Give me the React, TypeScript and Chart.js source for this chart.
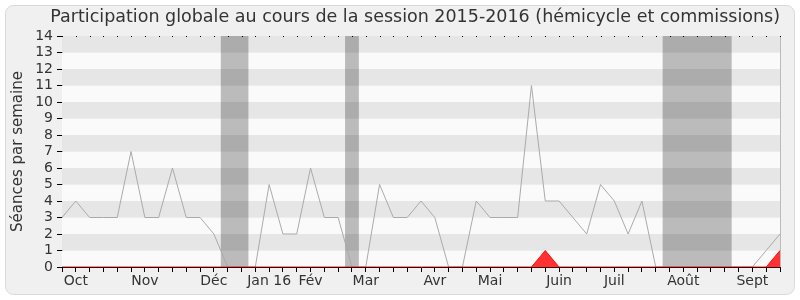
import React, { useEffect, useRef } from "react";
import { Chart, registerables } from "chart.js";

Chart.register(...registerables);

const TITLE = "Participation globale au cours de la session 2015-2016 (hémicycle et commissions)";
const Y_TITLE = "Séances par semaine";

// one entry per week, Oct 2015 -> Sept 2016
const participation = [
  3, 4, 3, 3, 3, 7, 3, 3, 6, 3, 3, 2, 0, 0, 0, 5, 2, 2, 6, 3, 3, 0, 0, 5, 3, 3,
  4, 3, 0, 0, 4, 3, 3, 3, 11, 4, 4, 3, 2, 5, 4, 2, 4, 0, 0, 0, 0, 0, 0, 0, 0, 1, 2,
];
const presenceHemicycle = [
  0, 0, 0, 0, 0, 0, 0, 0, 0, 0, 0, 0, 0, 0, 0, 0, 0, 0, 0, 0, 0, 0, 0, 0, 0, 0,
  0, 0, 0, 0, 0, 0, 0, 0, 0, 1, 0, 0, 0, 0, 0, 0, 0, 0, 0, 0, 0, 0, 0, 0, 0, 0, 1,
];
const monthWeeks = [1, 6, 11, 15, 18, 22, 27, 31, 36, 40, 45, 50];
const monthNames = ["Oct", "Nov", "Déc", "Jan 16", "Fév", "Mar", "Avr", "Mai", "Juin", "Juil", "Août", "Sept"];
// holiday periods, in week index units
const vacationStart = [11.5, 20.5, 43.5];
const vacationEnd = [13.5, 21.5, 48.5];

const weekLabels = participation.map((_, i) => {
  const k = monthWeeks.indexOf(i);
  return k >= 0 ? monthNames[k] : "";
});

const FONT = "'DejaVu Sans', sans-serif";

const decorPlugin = {
  id: "decor",
  beforeDraw(chart: any) {
    const ctx = chart.ctx;
    ctx.save();
    ctx.fillStyle = "#f0f0f0";
    ctx.strokeStyle = "#d9d9d9";
    ctx.lineWidth = 1;
    ctx.beginPath();
    (ctx as any).roundRect(5.5, 5.5, 789, 289, 8);
    ctx.fill();
    ctx.stroke();
    ctx.restore();
  },
  beforeDatasetsDraw(chart: any) {
    const ctx = chart.ctx;
    const { left, right, top, bottom } = chart.chartArea;
    const y = chart.scales.y;
    const x = chart.scales.x;
    ctx.save();
    for (let v = 0; v < 14; v++) {
      const y0 = y.getPixelForValue(v + 1);
      const y1 = y.getPixelForValue(v);
      ctx.fillStyle = v % 2 === 1 ? "#e6e6e6" : "#fafafa";
      ctx.fillRect(left, y0, right - left, y1 - y0);
    }
    ctx.fillStyle = "rgba(0,0,0,0.25)";
    for (let k = 0; k < vacationStart.length; k++) {
      const x0 = x.getPixelForValue(vacationStart[k]);
      const x1 = x.getPixelForValue(vacationEnd[k]);
      ctx.fillRect(x0, top, x1 - x0, bottom - top);
    }
    ctx.strokeStyle = "#bbbbbb";
    ctx.beginPath();
    ctx.moveTo(Math.round(right) + 0.5, top);
    ctx.lineTo(Math.round(right) + 0.5, bottom);
    ctx.stroke();
    ctx.fillStyle = "#000";
    for (let i = 0; i < participation.length; i++) {
      const px = Math.round(x.getPixelForValue(i));
      ctx.fillRect(px, Math.round(top), 1, 1);
    }
    ctx.restore();
  },
};

export default function App() {
  const ref = useRef<HTMLCanvasElement>(null);
  useEffect(() => {
    document.body.style.margin = "0";
    const chart = new Chart(ref.current!, {
      type: "line",
      data: {
        labels: weekLabels,
        datasets: [
          {
            data: presenceHemicycle,
            borderColor: "rgba(255,0,0,0.9)",
            backgroundColor: "rgba(255,0,0,0.8)",
            borderWidth: 1,
            fill: "origin",
            pointRadius: 0,
            tension: 0,
          },
          {
            data: participation,
            borderColor: "#aaaaaa",
            borderWidth: 1,
            fill: false,
            pointRadius: 0,
            tension: 0,
          },
        ],
      },
      options: {
        animation: false,
        responsive: false,
        layout: { padding: { left: 0, right: 20, top: 0, bottom: 0 } },
        plugins: {
          legend: { display: false },
          tooltip: { enabled: false },
          title: {
            display: true,
            text: TITLE,
            align: "end",
            color: "#333333",
            font: { family: FONT, size: 17.5, weight: "normal" },
            padding: { top: 7, bottom: 8 },
          },
        },
        scales: {
          x: {
            type: "category",
            offset: false,
            grid: { display: true, drawOnChartArea: false, drawTicks: true, tickLength: 5, color: "#000" },
            border: { display: true, color: "#400000" },
            ticks: {
              autoSkip: false,
              maxRotation: 0,
              minRotation: 0,
              padding: 1,
              color: "#333333",
              font: { family: FONT, size: 14 },
            },
            afterFit(scale: any) {
              scale.height = 33;
            },
          },
          y: {
            min: 0,
            max: 14,
            grid: { display: true, drawOnChartArea: false, drawTicks: true, tickLength: 5, color: "#000" },
            border: { display: true, color: "#000" },
            ticks: {
              stepSize: 1,
              autoSkip: false,
              padding: 4,
              color: "#333333",
              font: { family: FONT, size: 14 },
            },
            title: {
              display: true,
              text: Y_TITLE,
              color: "#333333",
              font: { family: FONT, size: 15 },
              padding: { top: 9, bottom: 0 },
            },
            afterFit(scale: any) {
              scale.width = 62;
            },
          },
        },
      },
      plugins: [decorPlugin],
    } as any);
    return () => chart.destroy();
  }, []);
  return (
    <div style={{ position: "fixed", left: 0, top: 0, width: 800, height: 300 }}>
      <canvas ref={ref} width={800} height={300} style={{ width: 800, height: 300 }} />
    </div>
  );
}
